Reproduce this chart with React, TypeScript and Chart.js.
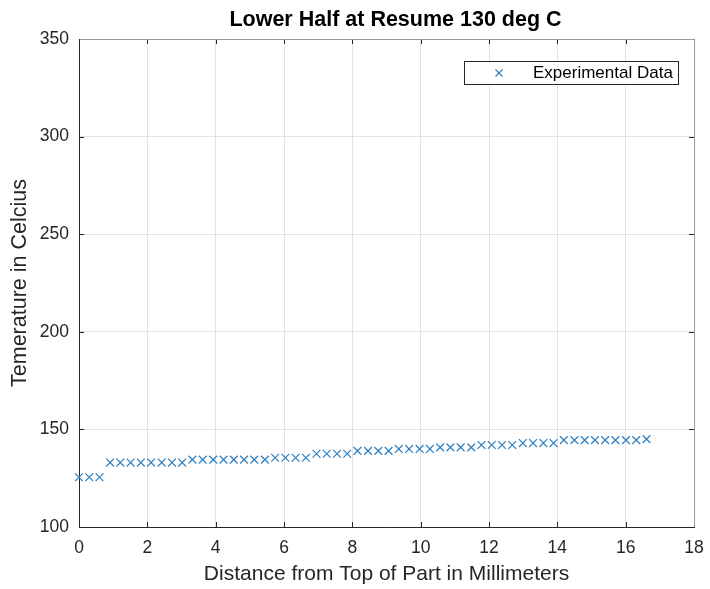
import React, { useEffect, useRef } from "react";
import { Chart, registerables } from "chart.js";

Chart.register(...registerables);

const titleText = "Lower Half at Resume 130 deg C";
const xAxisTitle = "Distance from Top of Part in Millimeters";
const yAxisTitle = "Temerature in Celcius";
const seriesLabel = "Experimental Data";

const distances: number[] = [
  0, 0.3, 0.6, 0.91, 1.21, 1.51, 1.81, 2.11, 2.42, 2.72,
  3.02, 3.32, 3.62, 3.93, 4.23, 4.53, 4.83, 5.13, 5.44, 5.74,
  6.04, 6.34, 6.64, 6.95, 7.25, 7.55, 7.85, 8.15, 8.46, 8.76,
  9.06, 9.36, 9.66, 9.97, 10.27, 10.57, 10.87, 11.17, 11.48, 11.78,
  12.08, 12.38, 12.68, 12.99, 13.29, 13.59, 13.89, 14.19, 14.5, 14.8,
  15.1, 15.4, 15.7, 16.01, 16.31, 16.61,
];

const temperatures: number[] = [
  125.5, 125.5, 125.5, 133, 133, 133, 133, 133, 133, 133,
  133, 134.5, 134.5, 134.5, 134.5, 134.5, 134.5, 134.5, 134.5, 135.5,
  135.5, 135.5, 135.5, 137.5, 137.5, 137.5, 137.5, 139, 139, 139,
  139, 140, 140, 140, 140, 140.8, 140.8, 140.8, 140.8, 142,
  142, 142, 142, 143, 143, 143, 143, 144.5, 144.5, 144.5,
  144.5, 144.5, 144.5, 144.5, 144.5, 145,
];

const xMin = 0;
const xMax = 18;
const xStep = 2;
const yMin = 100;
const yMax = 350;
const yStep = 50;

const FONT = "'Liberation Sans', Arial, Helvetica, sans-serif";
const BLUE = "#2f7fc1";
const TEXT = "#262626";

const boxPlugin = {
  id: "matlabBox",
  beforeDatasetsDraw(chart: any) {
    const { ctx, chartArea: a, scales } = chart;
    ctx.save();
    // inward tick marks
    ctx.strokeStyle = TEXT;
    ctx.lineWidth = 1;
    const tl = 5;
    scales.x.ticks.forEach((t: any) => {
      const px = Math.round(scales.x.getPixelForValue(t.value)) + 0.5;
      ctx.beginPath();
      ctx.moveTo(px, a.bottom);
      ctx.lineTo(px, a.bottom - tl);
      ctx.moveTo(px, a.top);
      ctx.lineTo(px, a.top + tl);
      ctx.stroke();
    });
    scales.y.ticks.forEach((t: any) => {
      const py = Math.round(scales.y.getPixelForValue(t.value)) + 0.5;
      ctx.beginPath();
      ctx.moveTo(a.left, py);
      ctx.lineTo(a.left + tl, py);
      ctx.moveTo(a.right, py);
      ctx.lineTo(a.right - tl, py);
      ctx.stroke();
    });
    // box
    ctx.strokeStyle = "#9a9a9a";
    ctx.beginPath();
    ctx.moveTo(Math.round(a.left), Math.round(a.top) + 0.5);
    ctx.lineTo(Math.round(a.right) + 0.5, Math.round(a.top) + 0.5);
    ctx.lineTo(Math.round(a.right) + 0.5, Math.round(a.bottom));
    ctx.stroke();
    ctx.strokeStyle = TEXT;
    ctx.beginPath();
    ctx.moveTo(Math.round(a.left) + 0.5, Math.round(a.top));
    ctx.lineTo(Math.round(a.left) + 0.5, Math.round(a.bottom) + 0.5);
    ctx.lineTo(Math.round(a.right) + 1, Math.round(a.bottom) + 0.5);
    ctx.stroke();

    // title
    ctx.fillStyle = "#000000";
    ctx.font = `bold 21.5px ${FONT}`;
    ctx.textAlign = "center";
    ctx.textBaseline = "middle";
    ctx.fillText(titleText, (a.left + a.right) / 2 + 9, 20);
    ctx.restore();
  },
  afterDatasetsDraw(chart: any) {
    const { ctx, chartArea: a } = chart;
    ctx.save();
    // legend
    const ds = chart.data.datasets[0];
    const lx = a.right - 230;
    const ly = a.top + 22;
    const lw = 214;
    const lh = 23;
    ctx.fillStyle = "#ffffff";
    ctx.fillRect(lx, ly, lw, lh);
    ctx.strokeStyle = TEXT;
    ctx.lineWidth = 1;
    ctx.strokeRect(lx + 0.5, ly + 0.5, lw, lh);
    const mx = lx + 35;
    const my = ly + lh / 2 + 0.5;
    const r = 3.5;
    ctx.strokeStyle = ds.borderColor;
    ctx.lineWidth = 1.2;
    ctx.beginPath();
    ctx.moveTo(mx - r, my - r);
    ctx.lineTo(mx + r, my + r);
    ctx.moveTo(mx + r, my - r);
    ctx.lineTo(mx - r, my + r);
    ctx.stroke();
    ctx.fillStyle = "#000000";
    ctx.font = `17px ${FONT}`;
    ctx.textBaseline = "middle";
    ctx.textAlign = "left";
    ctx.fillText(ds.label, lx + 69, my);
    ctx.restore();
  },
};

export default function App() {
  const ref = useRef<HTMLCanvasElement | null>(null);

  useEffect(() => {
    document.body.style.margin = "0";
    const canvas = ref.current;
    if (!canvas) return;
    const chart = new Chart(canvas, {
      type: "scatter",
      data: {
        datasets: [
          {
            label: seriesLabel,
            data: distances.map((x, i) => ({ x, y: temperatures[i] })),
            pointStyle: "crossRot",
            pointRadius: 5.5,
            pointBorderWidth: 1.2,
            borderColor: BLUE,
            backgroundColor: BLUE,
            showLine: false,
            clip: false,
          },
        ],
      },
      options: {
        animation: false,
        responsive: false,
        maintainAspectRatio: false,
        layout: { padding: { left: 0, right: 16, top: 39, bottom: 0 } },
        plugins: {
          legend: { display: false },
          tooltip: { enabled: false },
          title: { display: false },
        },
        scales: {
          x: {
            type: "linear",
            min: xMin,
            max: xMax,
            border: { display: false },
            ticks: {
              stepSize: xStep,
              color: TEXT,
              font: { family: FONT, size: 17.5 },
              padding: 11,
              maxRotation: 0,
            },
            grid: { color: "#e3e3e3", drawTicks: false },
            title: {
              display: true,
              text: xAxisTitle,
              color: TEXT,
              font: { family: FONT, size: 21 },
              padding: { top: 0, bottom: 2 },
            },
            afterFit(scale: any) {
              scale.height = 62;
              scale.paddingLeft = 0;
              scale.paddingRight = 0;
            },
          },
          y: {
            type: "linear",
            min: yMin,
            max: yMax,
            border: { display: false },
            ticks: {
              stepSize: yStep,
              color: TEXT,
              font: { family: FONT, size: 17.5 },
              padding: 10,
            },
            grid: { color: "#e3e3e3", drawTicks: false },
            title: {
              display: true,
              text: yAxisTitle,
              color: TEXT,
              font: { family: FONT, size: 21.5 },
              padding: { top: 7, bottom: 0 },
            },
            afterFit(scale: any) {
              scale.width = 79;
              scale.paddingTop = 0;
              scale.paddingBottom = 0;
            },
          },
        },
      },
      plugins: [boxPlugin],
    });
    return () => chart.destroy();
  }, []);

  return (
    <div style={{ width: 710, height: 589, background: "#fff" }}>
      <canvas ref={ref} width={710} height={589} style={{ display: "block" }} />
    </div>
  );
}
